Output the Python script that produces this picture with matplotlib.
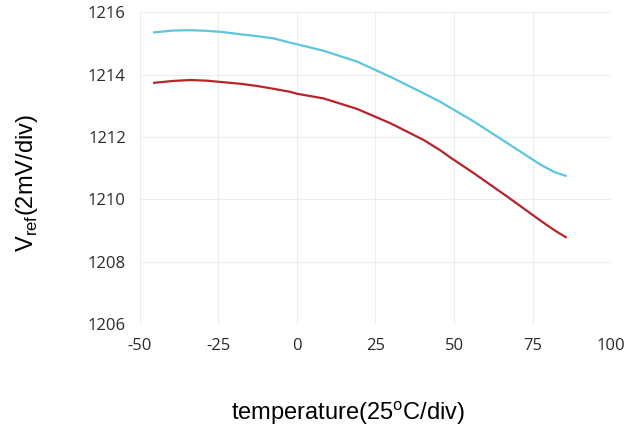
import numpy as np
import matplotlib
matplotlib.use("Agg")
import matplotlib.pyplot as plt

""" Data (read from the reference) """
temp = [-45.5, -39.4, -34, -28.7, -23.4, -18, -12.7, -7.5, -2.1, 0, 8.5, 19.2, 29.8,
        40.4, 45.8, 49, 56.4, 67, 77.7, 82, 85.6]
vref_cyan = [1215.36, 1215.42, 1215.43, 1215.41, 1215.37, 1215.30, 1215.24, 1215.17, 1215.03,
             1214.98, 1214.77, 1214.42, 1213.93, 1213.40, 1213.12, 1212.93, 1212.49, 1211.80,
             1211.10, 1210.87, 1210.75]
vref_red = [1213.74, 1213.80, 1213.83, 1213.81, 1213.76, 1213.71, 1213.64, 1213.55, 1213.45,
            1213.39, 1213.24, 1212.90, 1212.44, 1211.90, 1211.56, 1211.33, 1210.83, 1210.08,
            1209.30, 1209.00, 1208.78]
x_ticks = [-50, -25, 0, 25, 50, 75, 100]
y_ticks = [1206, 1208, 1210, 1212, 1214, 1216]

plt.rcParams["axes.unicode_minus"] = False   # 원본은 "-50" 하이픈 사용

fig = plt.figure(figsize=(6.38, 4.3), dpi=100)
ax = fig.add_axes([0.219, 0.247, 0.739, 0.724])

ax.plot(temp, vref_cyan, color="#5cc6dd", lw=1.6, solid_capstyle="round", solid_joinstyle="round")
ax.plot(temp, vref_red, color="#b8232a", lw=1.6, solid_capstyle="round", solid_joinstyle="round")

ax.set_xlim(-50, 100)
ax.set_ylim(1206, 1216)
ax.set_xticks(x_ticks)
ax.set_yticks(y_ticks)
ax.grid(True, color="#ededed", lw=0.8)
ax.set_axisbelow(True)
for s in ax.spines.values():
    s.set_visible(False)
ax.tick_params(axis="y", length=0, labelsize=12, labelcolor="#2a2a2a", pad=10)
ax.tick_params(axis="x", length=0, labelsize=12, labelcolor="#2a2a2a", pad=10)
for lab in ax.get_xticklabels() + ax.get_yticklabels():
    lab.set_family("Open Sans")

fig.text(0.042, 0.575, r"V$_{\mathregular{ref}}$(2mV/div)", rotation=90,
         ha="center", va="center", fontsize=17, family="Liberation Sans")
fig.text(0.546, 0.04, r"temperature(25$^{\mathregular{o}}$C/div)",
         ha="center", va="center", fontsize=17, family="Liberation Sans")

fig.savefig("out.png", dpi=100)
